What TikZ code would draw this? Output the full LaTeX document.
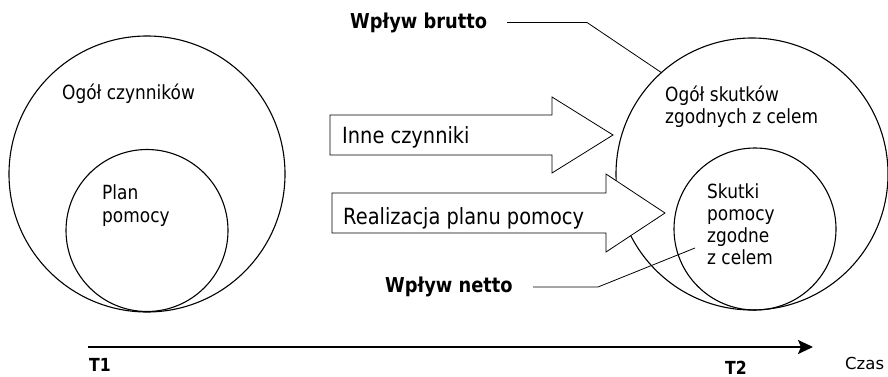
\documentclass[tikz,border=0pt]{standalone}
\usepackage{fontspec}
\setmainfont[FakeStretch=0.87]{DejaVu Sans}
\newfontfamily\plainfont{DejaVu Sans}
\usetikzlibrary{arrows.meta}
\begin{document}
\begin{tikzpicture}[x=1pt,y=-1pt,
  ring/.style={circle,draw,line width=1.1pt,minimum size=#1,inner sep=0pt},
  bigarrow/.style={draw,fill=white,line width=0.8pt,line join=miter},
  lbl/.style={anchor=base west,inner sep=0pt,font=\fontsize{19.5}{22}\selectfont},
  arrlbl/.style={anchor=base west,inner sep=0pt,font=\fontsize{22.3}{26}\selectfont},
  boldlbl/.style={anchor=base west,inner sep=0pt,font=\fontsize{20.5}{24}\selectfont\bfseries},
  tlbl/.style={anchor=base west,inner sep=0pt,font=\fontsize{18}{22}\selectfont\bfseries},
  leader/.style={line width=0.8pt}]
\useasboundingbox (0,0) rectangle (888,377);

% circles
\node[ring=276pt] (bigL) at (147,174) {};
\node[ring=162pt] (smallL) at (147,230.5) {};
\node[ring=272pt] (bigR) at (752,174) {};
\node[ring=162pt] (smallR) at (755,229) {};

% labels in circles
\node[lbl] (ogolC) at (62,100) {Ogół czynników};
\node[lbl] (planA) at (102,199) {Plan};
\node[lbl] (planB) at (102,222) {pomocy};
\node[lbl] (ogolSa) at (665,101.5) {Ogół skutków};
\node[lbl] (ogolSb) at (665,123.5) {zgodnych z celem};
\node[lbl] (skA) at (707,198) {Skutki};
\node[lbl] (skB) at (707,220) {pomocy};
\node[lbl] (skC) at (707,242) {zgodne};
\node[lbl] (skD) at (707,264) {z celem};

% block arrows
\coordinate (a1t) at (613,135);
\draw[bigarrow] (330,115) -- (552,115) -- (552,97) -- (a1t) -- (552,173) -- (552,155) -- (330,155) -- cycle;
\node[arrlbl] (inne) at (342,143.5) {Inne czynniki};

\coordinate (a2t) at (665,213);
\draw[bigarrow] (332,193) -- (606,193) -- (606,174) -- (a2t) -- (606,252) -- (606,233) -- (332,233) -- cycle;
\node[arrlbl] (real) at (343,224.5) {Realizacja planu pomocy};

% leader labels
\node[boldlbl] (brutto) at (350,28.5) {Wpływ brutto};
\coordinate (bs) at (507,22.5);
\coordinate (bk) at (587,22.5);
\coordinate (bEnd) at (662,73);
\draw[leader] (bs) -- (bk) -- (bEnd);

\node[boldlbl] (netto) at (385,292.5) {Wpływ netto};
\coordinate (ns) at (533,287);
\coordinate (nk) at (598,287);
\coordinate (nEnd) at (695,248);
\draw[leader] (ns) -- (nk) -- (nEnd);

% time axis
\coordinate (ax0) at (88,347);
\coordinate (ax1) at (813,347);
\draw[line width=2pt,-{Stealth[length=15pt,width=14pt,inset=3pt]}] (ax0) -- (ax1);
\node[tlbl] (t1) at (89,371) {T1};
\node[tlbl] (t2) at (725,374) {T2};
\node[anchor=base west,inner sep=0pt,font=\plainfont\fontsize{16.5}{20}\selectfont] (czas) at (845,369) {Czas};
\end{tikzpicture}
\end{document}
